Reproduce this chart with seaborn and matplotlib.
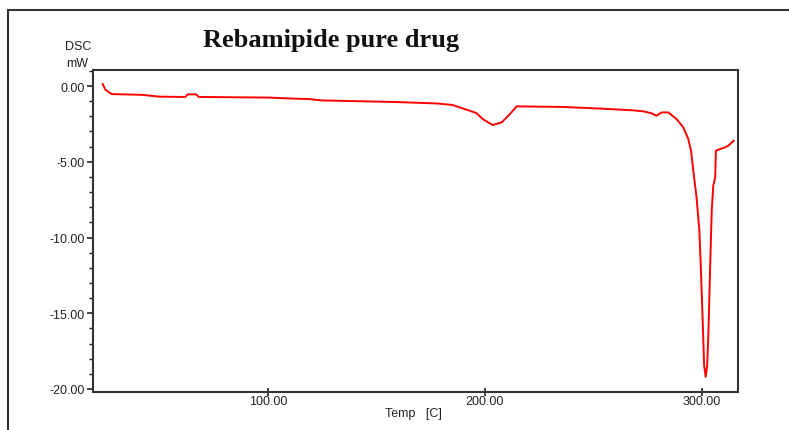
import matplotlib
matplotlib.use("Agg")
import matplotlib.pyplot as plt
import seaborn as sns
import pandas as pd
from matplotlib.ticker import MultipleLocator, FixedLocator, FormatStrFormatter
from matplotlib.lines import Line2D

# DSC thermogram
temp = [23.8, 25.1, 28.0, 42.0, 50.0, 62.0, 63.0, 67.0, 68.0, 100.0, 110.0,
        119.0, 125.0, 158.0, 178.0, 185.0, 191.5, 196.0, 199.0, 203.5, 207.7,
        211.5, 214.6, 236.0, 252.0, 268.0, 273.0, 276.8, 279.0, 281.4, 284.5,
        288.3, 291.4, 293.7, 295.0, 296.0, 297.5, 298.8, 299.5, 300.3, 301.0,
        301.7, 302.4, 303.0, 303.7, 304.5, 305.2, 306.1, 306.4, 308.3, 310.6,
        312.1, 314.7]
heat_flow = [0.15, -0.24, -0.53, -0.58, -0.70, -0.72, -0.55, -0.55, -0.72,
             -0.76, -0.82, -0.86, -0.95, -1.05, -1.15, -1.25, -1.56, -1.78,
             -2.18, -2.57, -2.40, -1.85, -1.34, -1.38, -1.48, -1.60, -1.67,
             -1.80, -1.96, -1.74, -1.74, -2.18, -2.73, -3.50, -4.30, -5.59,
             -7.35, -9.55, -12.10, -15.40, -18.46, -19.20, -18.46, -16.15,
             -12.30, -8.23, -6.58, -6.03, -4.27, -4.16, -4.05, -3.94, -3.60]

x_ticks = [100, 200, 300]

df = pd.DataFrame({'temp': temp, 'dsc': heat_flow})

sns.set_style('ticks')
plt.rcParams['font.family'] = ['Liberation Sans', 'DejaVu Sans']

fig = plt.figure(figsize=(7.89, 4.31), dpi=100)
ax = fig.add_axes([93 / 789, 1 - 393 / 431, (738 - 93) / 789, (393 - 71) / 431])

sns.lineplot(data=df, x='temp', y='dsc', ax=ax, sort=False, color='#ff0000',
             linewidth=1.4, estimator=None)

ax.set_xlim(19.4, 316.6)
ax.set_ylim(-20.2, 1.06)
ax.xaxis.set_major_locator(FixedLocator(x_ticks))
ax.yaxis.set_major_locator(MultipleLocator(5))
ax.yaxis.set_minor_locator(MultipleLocator(1))
ax.xaxis.set_major_formatter(FormatStrFormatter('%.2f'))
ax.yaxis.set_major_formatter(FormatStrFormatter('%.2f'))
ax.tick_params(axis='both', which='major', length=4, width=1.2, labelsize=9,
               colors='#222222', pad=2)
ax.tick_params(axis='y', which='minor', length=3, width=1.0, color='#222222')
ax.tick_params(axis='x', direction='inout', length=6, pad=-1)
ax.set_xlabel('')
ax.set_ylabel('')
for s in ax.spines.values():
    s.set_visible(True)
    s.set_linewidth(1.5)
    s.set_color('#333333')

fig.text(331 / 789, 1 - 40 / 431, 'Rebamipide pure drug', ha='center', va='center',
         fontsize=19, fontweight='bold', family='Liberation Serif', color='#111111')
fig.text(78 / 789, 1 - 47 / 431, 'DSC', ha='center', va='center', fontsize=9,
         color='#222222')
fig.text(77 / 789, 1 - 64 / 431, 'mW', ha='center', va='center', fontsize=9,
         color='#222222')
fig.text(413 / 789, 1 - 414 / 431, 'Temp   [C]', ha='center', va='center',
         fontsize=9, color='#222222')

# outer frame of the original figure (left and top edges)
fig.add_artist(Line2D([8 / 789, 8 / 789], [0, 1 - 11 / 431], transform=fig.transFigure,
                      color='#333333', linewidth=1.5))
fig.add_artist(Line2D([8 / 789, 1], [1 - 11 / 431, 1 - 11 / 431], transform=fig.transFigure,
                      color='#333333', linewidth=1.5))

fig.savefig('out.png', dpi=100, facecolor='white')
